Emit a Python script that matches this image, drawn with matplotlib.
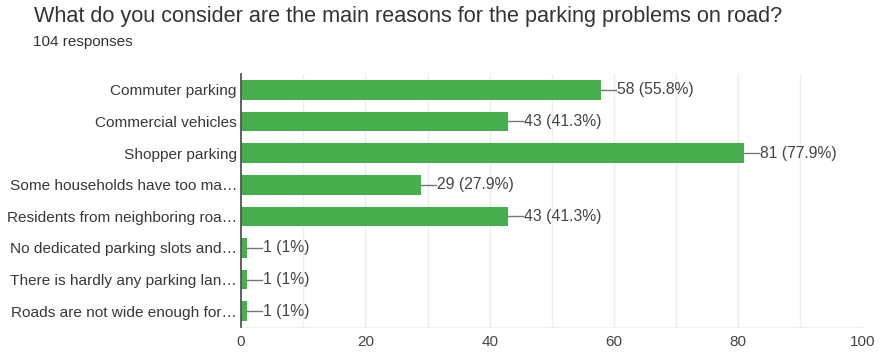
import matplotlib.pyplot as plt
from matplotlib.ticker import MultipleLocator

plt.rcParams['font.family'] = ['Liberation Sans', 'DejaVu Sans']

reasons = [
    'Commuter parking',
    'Commercial vehicles',
    'Shopper parking',
    'Some households have too ma\u2026',
    'Residents from neighboring roa\u2026',
    'No dedicated parking slots and\u2026',
    'There is hardly any parking lan\u2026',
    'Roads are not wide enough for\u2026',
]
counts = [58, 43, 81, 29, 43, 1, 1, 1]
percents = ['55.8%', '41.3%', '77.9%', '27.9%', '41.3%', '1%', '1%', '1%']
total = 104

fig = plt.figure(figsize=(8.8, 3.54), dpi=100)
ax = fig.add_axes([0.274, 0.076, 0.706, 0.715])

ypos = list(range(len(reasons)))
ax.barh(ypos, counts, height=0.62, color='#46ae4c', zorder=3)

# leader line + value label at the end of each bar
for y, c, p in zip(ypos, counts, percents):
    ax.plot([c, c + 2.4], [y, y], color='#777777', lw=1, zorder=3)
    ax.text(c + 2.5, y, f'{c} ({p})', va='center', ha='left',
            fontsize=11.3, color='#444444')

ax.set_xlim(0, 100)
ax.set_ylim(len(reasons) - 0.5, -0.5)
ax.set_yticks(ypos)
ax.set_yticklabels(reasons, fontsize=11.1, color='#383838')
ax.xaxis.set_major_locator(MultipleLocator(20))
ax.xaxis.set_minor_locator(MultipleLocator(10))
ax.tick_params(axis='x', labelsize=11, labelcolor='#444444', length=0, which='both', pad=6)
ax.tick_params(axis='y', length=0, pad=3)
ax.grid(axis='x', which='both', color='#eeeeee', lw=1, zorder=0)

for side in ['top', 'right']:
    ax.spines[side].set_visible(False)
ax.spines['bottom'].set_color('#f0f0f0')
ax.spines['left'].set_color('#555555')
ax.spines['left'].set_linewidth(1.3)
ax.spines['left'].set_zorder(4)

fig.text(0.039, 0.952, 'What do you consider are the main reasons for the parking problems on road?',
         fontsize=15.6, color='#333333', va='center', ha='left')
fig.text(0.038, 0.88, f'{total} responses', fontsize=11, color='#333333', va='center', ha='left')

fig.savefig('out.png', dpi=100)
